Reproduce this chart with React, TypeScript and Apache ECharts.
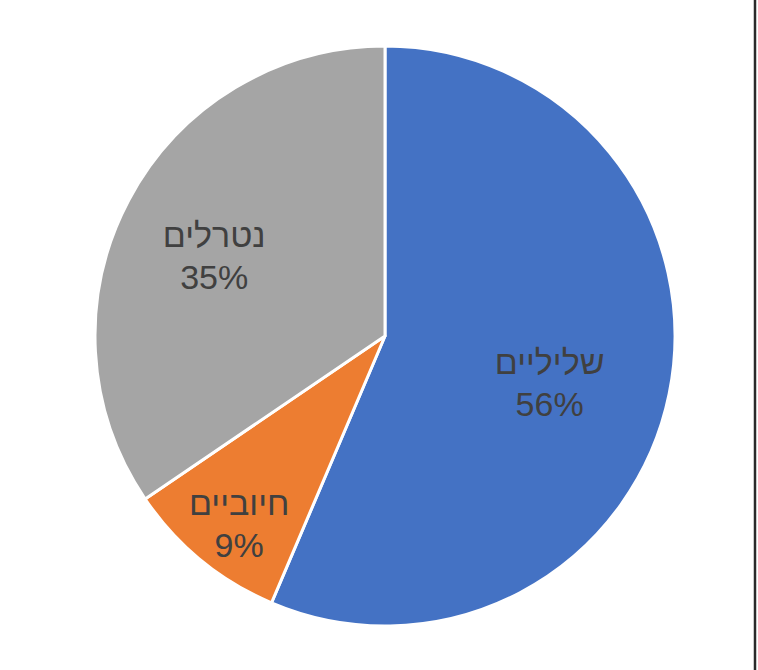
import { useEffect, useRef } from "react";
import * as echarts from "echarts";

const categories = ["שליליים", "חיוביים", "נטרלים"];
const shares = [56.4, 9.1, 34.5];
const sliceColors = ["#4472C4", "#ED7D31", "#A5A5A5"];

// where each label sits, as a share of the radius, plus a small angle nudge (deg)
const labelRadius = [0.59, 0.82, 0.65];
const labelNudge = [4.3, -1.6, -2.9];

const CX = 385;
const CY = 336;
const R = 290;

function labelPoint(index: number) {
  const total = shares.reduce((a, b) => a + b, 0);
  const before = shares.slice(0, index).reduce((a, b) => a + b, 0);
  const mid = ((before + shares[index] / 2) / total) * 360 + labelNudge[index];
  const rad = (mid * Math.PI) / 180;
  const r = R * labelRadius[index];
  return { x: CX + r * Math.sin(rad), y: CY - r * Math.cos(rad) };
}

function PieChart() {
  const ref = useRef<HTMLDivElement>(null);

  useEffect(() => {
    if (!ref.current) return;
    const chart = echarts.init(ref.current, undefined, { renderer: "svg" });

    chart.setOption({
      animation: false,
      backgroundColor: "#ffffff",
      series: [
        {
          type: "pie",
          center: [CX, CY],
          radius: R,
          startAngle: 90,
          clockwise: true,
          itemStyle: { borderColor: "#ffffff", borderWidth: 3 },
          label: {
            show: true,
            position: "inside",
            formatter: (p: { name: string; value: number }) => `${p.name}\n${Math.round(p.value)}%`,
            color: "#404040",
            fontFamily: "Liberation Sans, Arial, sans-serif",
            fontSize: 34,
            lineHeight: 42,
            align: "center",
            verticalAlign: "middle",
          },
          labelLayout: (params: { dataIndex: number }) => labelPoint(params.dataIndex),
          emphasis: { disabled: true },
          data: categories.map((name, i) => ({
            name,
            value: shares[i],
            itemStyle: { color: sliceColors[i] },
          })),
        },
      ],
      graphic: [
        {
          type: "line",
          shape: { x1: 755, y1: 0, x2: 755, y2: 670 },
          style: { stroke: "#2a2a2a", lineWidth: 2.5 },
        },
      ],
    });

    return () => chart.dispose();
  }, []);

  return <div ref={ref} style={{ width: 758, height: 670 }} />;
}

export default function App() {
  return (
    <div style={{ position: "fixed", left: 0, top: 0, width: 758, height: 670, background: "#fff" }}>
      <PieChart />
    </div>
  );
}
